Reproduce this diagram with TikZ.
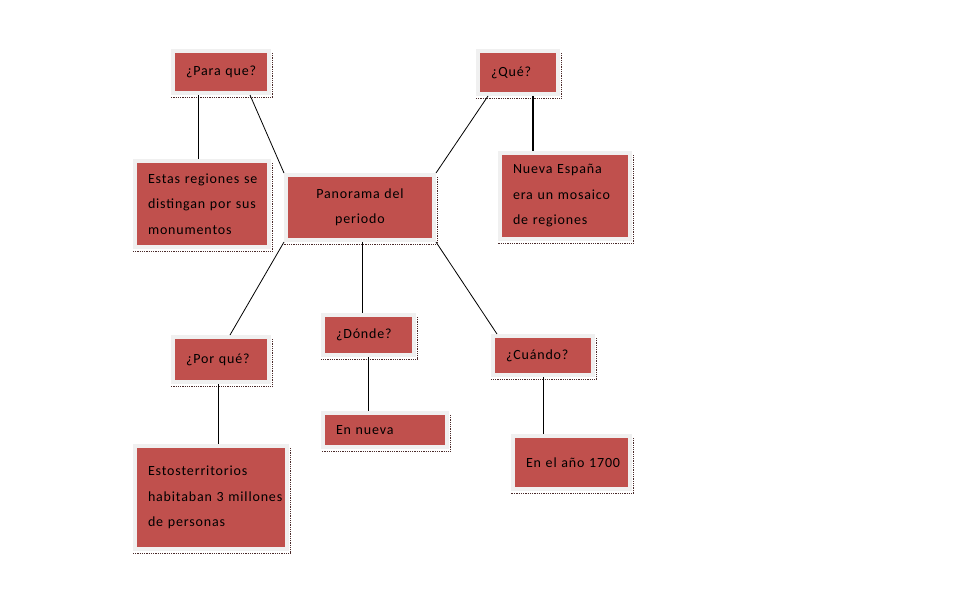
\documentclass[tikz,border=0pt]{standalone}
\usepackage{fontspec}
\usepackage{tikz}
\usetikzlibrary{positioning,calc}
\newfontfamily\cajafont[LetterSpace=6]{Carlito}
\newcommand\singuion{\hyphenpenalty=10000\relax\exhyphenpenalty=10000\relax}
\definecolor{cajarojo}{HTML}{C0504D}
\definecolor{cajaborde}{HTML}{F0F0F0}
\definecolor{sombra}{HTML}{4A2A2A}
\tikzset{
  caja/.style={rectangle, fill=cajarojo, draw=cajaborde, line width=4pt,
    inner xsep=13pt, inner ysep=2pt, align=left, text=black,
    font=\cajafont\fontsize{14}{25.5}\selectfont\singuion,
    append after command={
      ([xshift=1.5pt,yshift=-4pt]\tikzlastnode.north east) edge[sombra linea] ([xshift=1.5pt,yshift=-2.5pt]\tikzlastnode.south east)
      ([xshift=1.5pt,yshift=-2.5pt]\tikzlastnode.south east) edge[sombra linea] ([yshift=-2.5pt]\tikzlastnode.south west)}},
  sombra linea/.style={draw=sombra, line width=0.9pt, dash pattern=on 0.9pt off 0.9pt},
  enlace/.style={draw=black, line width=0.8pt}
}
\begin{document}
\begin{tikzpicture}[x=1pt, y=-1pt]

\fill[white] (0,0) rectangle (962,608);
\useasboundingbox (0,0) rectangle (962,608);

% Nodo central
\node[caja, align=center, minimum width=148pt, minimum height=65pt, text width=122pt] (panorama) at (360,207.5) {Panorama del\\periodo};

% Preguntas
\node[caja, minimum width=96pt, minimum height=42pt, text width=70pt] (para) at (221,72) {¿Para que?};
\node[caja, minimum width=80pt, minimum height=43pt, text width=54pt] (que) at (518,72.5) {¿Qué?};
\node[caja, minimum width=96pt, minimum height=45pt, text width=70pt] (porque) at (221,359.5) {¿Por qué?};
\node[caja, minimum width=91pt, minimum height=40pt, text width=65pt] (donde) at (368.5,335) {¿Dónde?};
\node[caja, minimum width=100pt, minimum height=39pt, text width=74pt] (cuando) at (543,355.5) {¿Cuándo?};

% Respuestas
\node[caja, minimum width=134pt, minimum height=86pt, text width=108pt] (estas) at (202,204) {Estas~regiones~se\\distingan~por~sus\\monumentos};
\node[caja, minimum width=130pt, minimum height=86pt, text width=104pt] (nueva) at (565,196) {Nueva~España\\era~un~mosaico\\de~regiones};
\node[caja, minimum width=152pt, minimum height=103pt, text width=126pt] (estos) at (211,497.5) {Estosterritorios\\habitaban~3~millones\\de~personas};
\node[caja, minimum width=124pt, minimum height=34pt, text width=98pt] (ennueva) at (385,430) {En~nueva};
\node[caja, minimum width=117pt, minimum height=53pt, text width=91pt] (anio) at (571.5,462.5) {En~el~año~1700};

% Enlaces al centro
\draw[enlace] ([xshift=-21pt]para.south east) -- (panorama.north west);
\draw[enlace] ([xshift=12pt]que.south west) -- (panorama.north east);
\draw[enlace] (panorama.south west) -- ([xshift=9pt]porque.north);
\draw[enlace] ([xshift=2pt]panorama.south) -- ([xshift=2pt]panorama.south |- donde.north);
\draw[enlace] (panorama.south east) -- ([xshift=6pt]cuando.north west);

% Enlaces a las respuestas
\draw[enlace] ([xshift=-4pt]estas.north) -- ([xshift=-4pt]estas.north |- para.south);
\draw[enlace, line width=2pt] ([xshift=15pt]que.south) -- ([xshift=15pt]que.south |- nueva.north);
\draw[enlace] ([xshift=-3pt]porque.south) -- ([xshift=-3pt]porque.south |- estos.north);
\draw[enlace] (donde.south) -- (donde.south |- ennueva.north);
\draw[enlace] (cuando.south) -- (cuando.south |- anio.north);

\end{tikzpicture}
\end{document}
